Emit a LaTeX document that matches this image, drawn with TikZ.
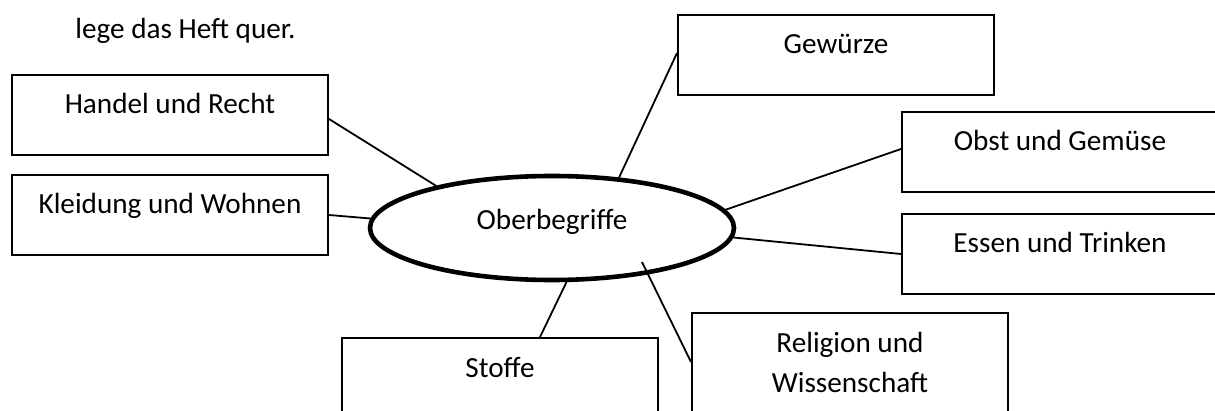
\documentclass[tikz,border=0pt]{standalone}
\usepackage{fontspec}
\setmainfont{Carlito}
\usetikzlibrary{shapes.geometric,positioning}

\begin{document}
\begin{tikzpicture}[
   x=0.5pt, y=-0.5pt,
   font=\fontsize{14.6pt}{20pt}\selectfont,
   kasten/.style={draw, line width=1pt, anchor=north west, inner sep=0pt,
                  minimum width=158pt, text height=19.5pt, text depth=20.5pt},
   mitte/.style={draw, ellipse, line width=2.3pt, inner sep=0pt,
                 minimum width=182pt, minimum height=52pt,
                 text height=10pt, text depth=8.5pt},
   linie/.style={line width=0.9pt}]
  \useasboundingbox (0,0) rectangle (1215,411);
  \clip (0,0) rectangle (1215,411);
  \node[anchor=base west, inner sep=0pt] (hinweis) at (75,39) {lege das Heft quer.};
  \node[mitte] (ober) at (552,228) {Oberbegriffe};
  % Kaesten links
  \node[kasten] (handel) at (11,74) {Handel und Recht};
  \node[kasten] (kleidung) at (11,174) {Kleidung und Wohnen};
  % Kaesten rechts
  \node[kasten] (gewuerze) at (677,14) {Gewürze};
  \node[kasten] (obst) at (901,111) {Obst und Gemüse};
  \node[kasten] (essen) at (901,213) {Essen und Trinken};
  % Kaesten unten
  \node[kasten] (stoffe) at (341,337) {Stoffe};
  \node[kasten, align=center, text height=39.5pt] (religion) at (691,312)
       {Religion und\\Wissenschaft};
  \coordinate (relinnen) at ([shift={(90,34)}]ober.center);
  \draw[linie] ([yshift=-2pt]handel.east) -- (ober.160);
  \draw[linie] (kleidung.east) -- (ober.177);
  \draw[linie] ([yshift=1pt]gewuerze.west) -- (ober.37);
  \draw[linie] ([yshift=1.5pt]obst.west) -- (ober.6);
  \draw[linie] (essen.west) -- (ober.-3);
  \draw[linie] ([xshift=20pt]stoffe.north) -- (ober.-75);
  \draw[linie] ([yshift=-25pt]religion.north west) -- (relinnen);
\end{tikzpicture}
\end{document}
